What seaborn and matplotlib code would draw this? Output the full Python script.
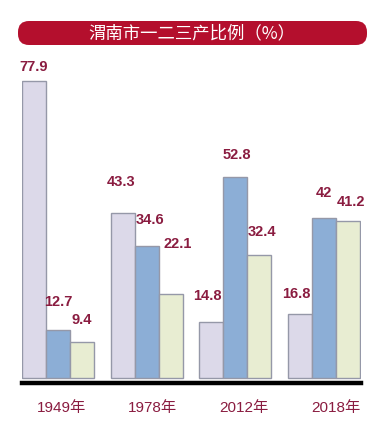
import matplotlib
matplotlib.use("Agg")
import matplotlib.pyplot as plt
from matplotlib.patches import FancyBboxPatch
import seaborn as sns
import pandas as pd
import numpy as np

years = ["1949年", "1978年", "2012年", "2018年"]
sectors = ["第一产业", "第二产业", "第三产业"]
primary = [77.9, 43.3, 14.8, 16.8]
secondary = [12.7, 34.6, 52.8, 42]
tertiary = [9.4, 22.1, 32.4, 41.2]
value_labels = [["77.9", "43.3", "14.8", "16.8"],
                ["12.7", "34.6", "52.8", "42"],
                ["9.4", "22.1", "32.4", "41.2"]]
title = "渭南市一二三产比例（%）"

# label placement (offset above bar top in data units, x shift in bar widths)
label_dy = [[3.7, 8.1, 6.7, 5.2],
            [7.2, 6.9, 5.7, 6.6],
            [5.8, 13.1, 5.9, 5.0]]
label_dx = [[0.0, -0.05, -0.17, -0.17],
            [0.0, 0.12, 0.05, 0.0],
            [0.0, 0.3, 0.12, 0.12]]
year_shift = [0.04, 0.07, 0.10, 0.13]

sns.set_theme(style="white")
plt.rcParams["font.family"] = ["Noto Sans CJK SC", "DejaVu Sans"]

W, H = 384, 423
fig = plt.figure(figsize=(W / 100, H / 100), dpi=100)
fig.patch.set_facecolor("white")

left_px, right_px = 22, 361
top_px, bottom_px = 50, 382.6
ax = fig.add_axes([left_px / W, 1 - bottom_px / H, (right_px - left_px) / W, (bottom_px - top_px) / H])

df = pd.DataFrame({
    "year": np.repeat(years, 3),
    "sector": sectors * 4,
    "value": [v for trip in zip(primary, secondary, tertiary) for v in trip],
})
fills = ["#dcd9e9", "#8caed6", "#e8edd2"]
sns.barplot(data=df, x="year", y="value", hue="sector", hue_order=sectors,
            palette=fills, width=0.81, edgecolor="#9598a8", linewidth=1.0,
            legend=False, saturation=1, ax=ax)

ax.set_xlim(-0.405, 3.416)
ax.set_ylim(-1.2, 86.1)
ax.set_yticks([])
ax.set_xlabel("")
ax.set_ylabel("")
for s in ["top", "right", "left"]:
    ax.spines[s].set_visible(False)
ax.spines["bottom"].set_color("black")
ax.spines["bottom"].set_linewidth(3.2)
ax.tick_params(axis="x", length=0, pad=13)
ax.set_xticks([i + year_shift[i] for i in range(4)])
ax.set_xticklabels(years, color="#8a1c40", fontsize=11,
                   family=["Liberation Sans", "Noto Sans CJK SC"])

label_color = "#8a1c40"
series = [primary, secondary, tertiary]
bw = 0.27
for h in range(3):
    for g in range(4):
        xc = g + (h - 1) * bw + label_dx[h][g] * bw
        ax.text(xc, series[h][g] + label_dy[h][g], value_labels[h][g],
                ha="center", va="center", color=label_color, fontsize=10.5,
                fontweight="bold", family="Liberation Sans")

bax = fig.add_axes([0, 0, 1, 1], zorder=-1)
bax.set_xlim(0, W)
bax.set_ylim(H, 0)
bax.axis("off")
banner = FancyBboxPatch((18, 21), 349, 24, boxstyle="round,pad=0,rounding_size=11",
                        facecolor="#b40f2d", edgecolor="none")
bax.add_patch(banner)
bax.text(192, 33.5, title, ha="center", va="center", color="white", fontsize=12.5)

fig.savefig("out.png", dpi=100)
